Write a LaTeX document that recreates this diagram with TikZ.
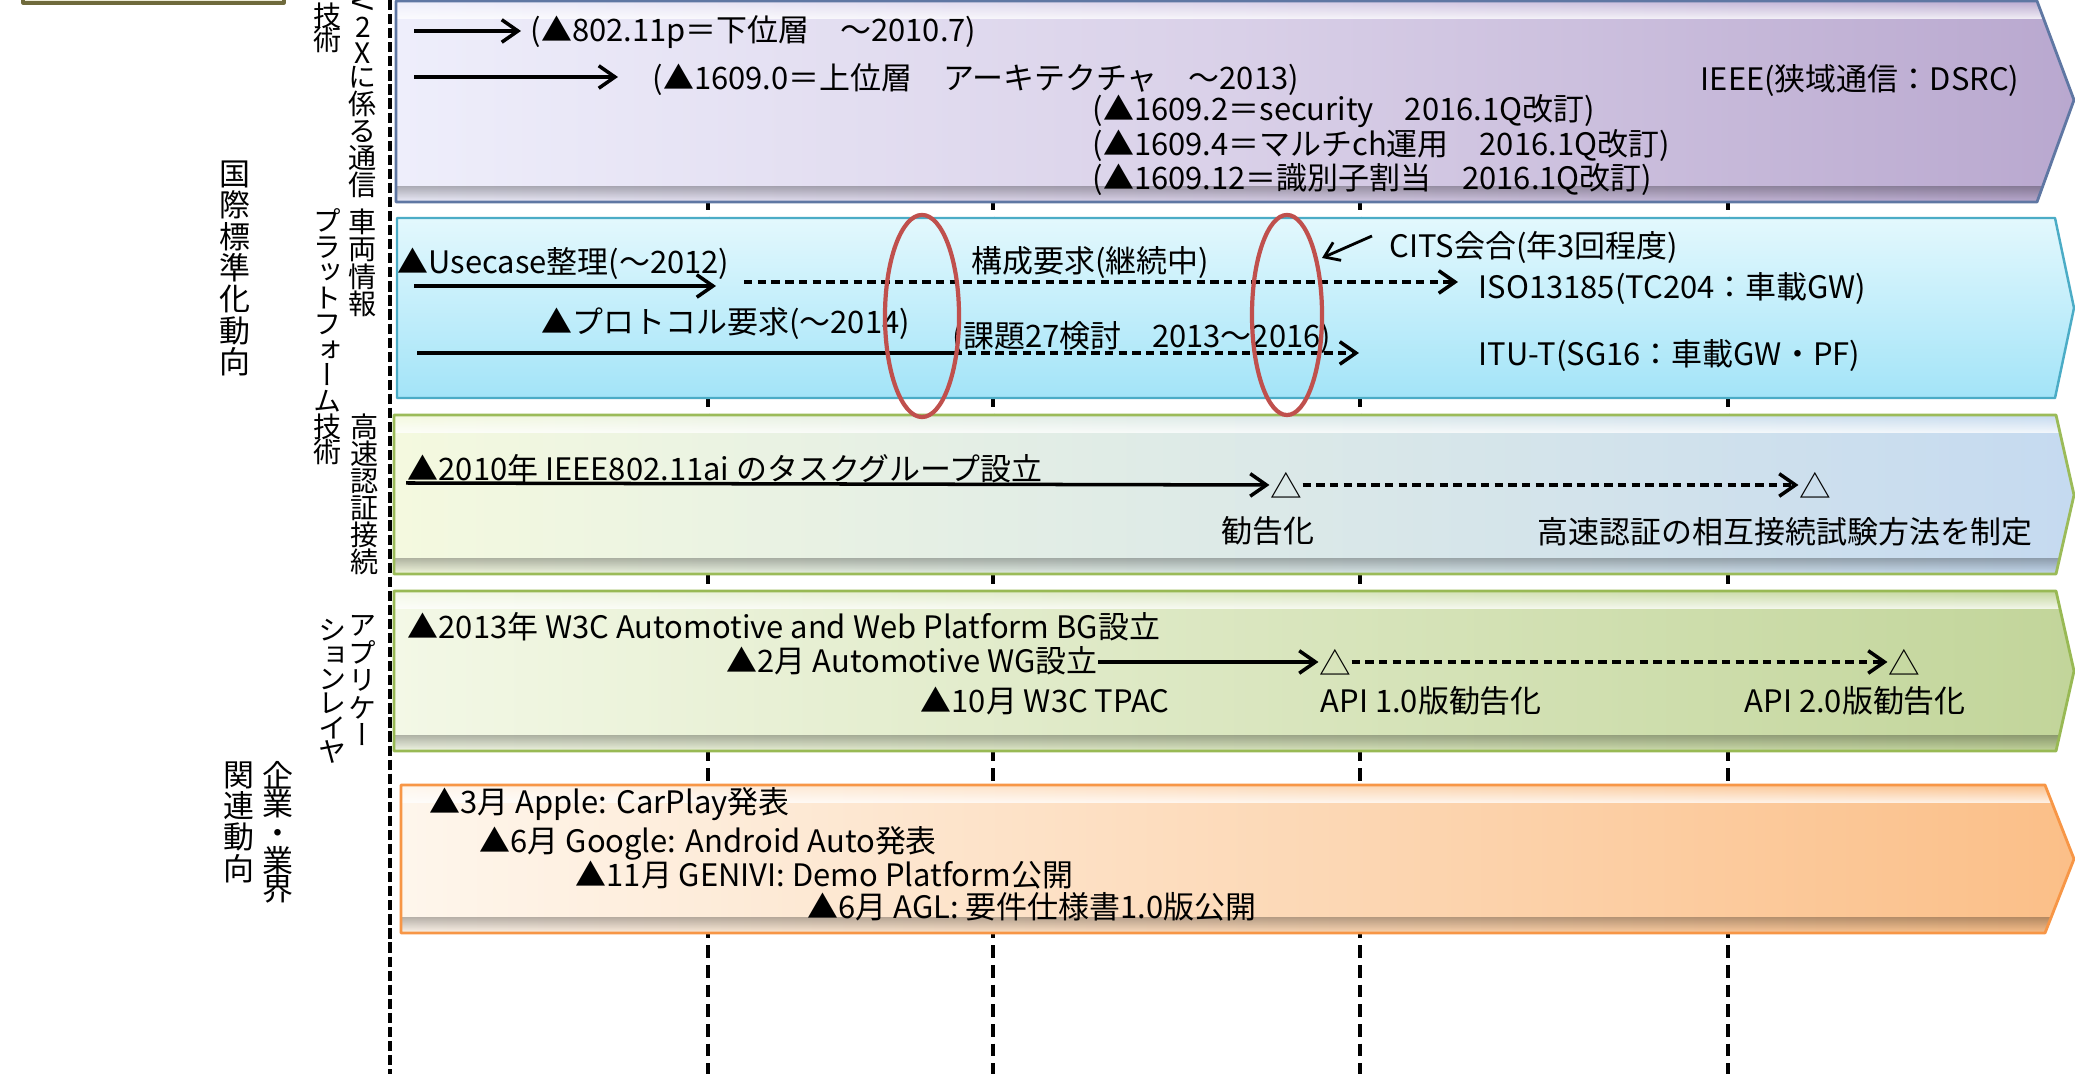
\documentclass[tikz,border=0pt]{standalone}
\usepackage{fontspec}
\usepackage{graphicx}
\setmainfont{Noto Sans CJK JP}
\newfontfamily\vjp{Noto Sans CJK JP}[RawFeature=+vert]
\usetikzlibrary{arrows.meta,fadings,shapes.geometric}

\definecolor{bAL}{HTML}{EEEEFB}\definecolor{bAM}{HTML}{D9D0E8}\definecolor{bAR}{HTML}{B9A8CF}\definecolor{bAD}{HTML}{5F77A3}
\definecolor{bBT}{HTML}{E3F8FD}\definecolor{bBB}{HTML}{A3E4F8}\definecolor{bBD}{HTML}{4BACC6}
\definecolor{bCL}{HTML}{F4F9DF}\definecolor{bCM}{HTML}{E3EDCB}\definecolor{bCR}{HTML}{C5DAF0}\definecolor{bCD}{HTML}{9BBB59}
\definecolor{bDL}{HTML}{F3F8E6}\definecolor{bDR}{HTML}{C2D59A}\definecolor{bDD}{HTML}{98B954}
\definecolor{bEL}{HTML}{FEF6EC}\definecolor{bER}{HTML}{FBBF88}\definecolor{bED}{HTML}{F79646}
\definecolor{ellred}{HTML}{C0504D}
\definecolor{boxfill}{HTML}{EEECD8}\definecolor{boxdraw}{HTML}{6F6A3C}

\newcommand{\bandpath}[5]{(#1,#2) -- (#3,#2) -- (2074,#5) -- (#3,#4) -- (#1,#4) -- cycle}
\newcommand{\bandbevel}[5]{%
  \begin{scope}
    \clip \bandpath{#1}{#2}{#3}{#4}{#5};
    \fill[white,opacity=.8,path fading=north] (#1,#2) rectangle (2075,#2+18);
    \fill[black,opacity=.28,path fading=south] (#1,#4-16) rectangle (2075,#4);
  \end{scope}}

\tikzset{
  f/.style={font=\fontsize{8.8}{10}\selectfont},
  txt/.style={f, anchor=west, inner sep=0pt, text height=7.4pt, text depth=1.4pt},
  ctxt/.style={f, anchor=center, inner sep=0pt, text height=7.4pt, text depth=1.4pt},
  tri/.style={font=\fontsize{9}{9}\selectfont, inner sep=0pt, anchor=center},
  vl/.style 2 args={align=center, inner sep=0pt, anchor=north,
     font=\vjp\fontsize{#1}{#2}\selectfont},
  vc/.style={inner sep=0pt, anchor=center, font=\vjp\fontsize{8}{8}\selectfont},
  arr/.style={line width=1pt, -{Straight Barb[length=4.6pt,width=6.4pt]}},
  darr/.style={arr, dash pattern=on 2.4pt off 1.5pt},
  tick/.style={line width=0.9pt, dash pattern=on 3.6pt off 2pt},
  lead/.style={line width=1.05pt, dash pattern=on 2.9pt off 1.1pt},
  ell/.style={ellipse, draw=ellred, line width=1.2pt, inner sep=0pt},
}

\begin{document}
\lineskiplimit=-100pt
\lineskip=0pt
\begin{tikzpicture}[x=0.01cm,y=-0.01cm,line join=round]
\useasboundingbox (0,0) rectangle (2075,1074);
\clip (0,0) rectangle (2075,1074);
\fill[white] (0,0) rectangle (2075,1074);

% top-left cut box
\draw[fill=boxfill,draw=boxdraw,line width=0.9pt] (23,-20) rectangle (284,3);

% timeline dashed lines
\coordinate (tA1) at (708,0);  \coordinate (tA2) at (708,1074);
\coordinate (tB1) at (993,0);  \coordinate (tB2) at (993,1074);
\coordinate (tC1) at (1360,0); \coordinate (tC2) at (1360,1074);
\coordinate (tD1) at (1728,0); \coordinate (tD2) at (1728,1074);
\draw[tick] (tA1) -- (tA2);
\draw[tick] (tB1) -- (tB2);
\draw[tick] (tC1) -- (tC2);
\draw[tick] (tD1) -- (tD2);
\coordinate (L1) at (390,0); \coordinate (L2) at (390,1074);
\draw[lead] (L1) -- (L2);

% band 1 (purple)
\fill[left color=bAL,right color=bAR,middle color=bAM] \bandpath{396}{1}{2037}{202}{100};
\bandbevel{396}{1}{2037}{202}{100}
\draw[bAD,line width=0.8pt] \bandpath{396}{1}{2037}{202}{100};

% band 2 (cyan)
\fill[top color=bBT,bottom color=bBB] \bandpath{397}{218}{2055}{398}{308};
\draw[bBD,line width=0.7pt] \bandpath{397}{218}{2055}{398}{308};

% band 3 (green to blue)
\fill[left color=bCL,middle color=bCM,right color=bCR] \bandpath{394}{415}{2056}{574}{495};
\bandbevel{394}{415}{2056}{574}{495}
\draw[bCD,line width=0.8pt] \bandpath{394}{415}{2056}{574}{495};

% band 4 (green)
\fill[left color=bDL,right color=bDR] \bandpath{394}{591}{2056}{751}{671};
\bandbevel{394}{591}{2056}{751}{671}
\draw[bDD,line width=0.8pt] \bandpath{394}{591}{2056}{751}{671};

% band 5 (orange)
\fill[left color=bEL,right color=bER] \bandpath{401}{785}{2045}{933}{859};
\bandbevel{401}{785}{2045}{933}{859}
\draw[bED,line width=0.8pt] \bandpath{401}{785}{2045}{933}{859};

% ---------- left vertical labels ----------
\node[vl={8.8}{8.93}] (lbMain) at (235,160) {国\\際\\標\\準\\化\\動\\向};
\node[vc] (lbV) at (363,3) {\rotatebox{-90}{V}};
\node[vc] (lb2) at (363,27) {2};
\node[vc] (lbX) at (363,53) {X};
\node[vl={8}{7.65}] (lbA1) at (363,66) {に\\係\\る\\通\\信};
\node[vl={8}{7.0}] (lbA2) at (328,2) {技\\術};
\node[vl={8}{7.8}] (lbB1) at (363,208) {車\\両\\情\\報};
\node[vl={8}{7.3}] (lbB2) at (328,208) {プ\\ラ\\ッ\\ト\\フ\\ォ\\ー\\ム\\技\\術};
\node[vl={8}{7.7}] (lbC1) at (365,413) {高\\速\\認\\証\\接\\続};
\node[vl={8}{7.8}] (lbD1) at (363,615) {ア\\プ\\リ\\ケ\\ー};
\node[vl={8}{6.9}] (lbD2) at (333,619) {シ\\ョ\\ン\\レ\\イ\\ヤ};
\node[vl={8.8}{8.0}] (lbE1) at (278,761) {企\\業\\・\\業\\界};
\node[vl={8.8}{8.9}] (lbE2) at (239,761) {関\\連\\動\\向};

% ---------- band 1 content ----------
\coordinate (a11s) at (414,31); \coordinate (a11e) at (521,31);
\coordinate (a12s) at (414,77); \coordinate (a12e) at (618,77);
\draw[arr] (a11s) -- (a11e);
\draw[arr] (a12s) -- (a12e);
\node[txt] (t11) at (530,31) {(▲802.11p＝下位層　～2010.7)};
\node[txt] (t12) at (652,79) {(▲1609.0＝上位層　アーキテクチャ　～2013)};
\node[txt] (t13) at (1092,110) {(▲1609.2＝security　2016.1Q改訂)};
\node[txt] (t14) at (1092,145) {(▲1609.4＝マルチch運用　2016.1Q改訂)};
\node[txt] (t15) at (1092,179) {(▲1609.12＝識別子割当　2016.1Q改訂)};
\node[txt,anchor=east] (t16) at (2020,80) {IEEE(狭域通信：DSRC)};

% ---------- band 2 content ----------
\node[txt] (t21) at (397,263) {▲Usecase整理(～2012)};
\coordinate (a21s) at (414,286); \coordinate (a21e) at (716,286);
\draw[arr] (a21s) -- (a21e);
\node[txt] (t22) at (971,262) {構成要求(継続中)};
\coordinate (a22s) at (744,282); \coordinate (a22e) at (1458,282);
\draw[darr] (a22s) -- (a22e);
\node[txt] (t23) at (1389,247) {CITS会合(年3回程度)};
\coordinate (a23s) at (1372,236); \coordinate (a23e) at (1322,258);
\draw[line width=0.8pt,-{Straight Barb[length=4pt,width=5.6pt]}] (a23s) -- (a23e);
\node[txt] (t24) at (1478,288) {ISO13185(TC204：車載GW)};
\node[txt] (t25) at (541,323) {▲プロトコル要求(～2014)};
\coordinate (a24s) at (417,353); \coordinate (a24m) at (954,353); \coordinate (a24e) at (1359,353);
\draw[line width=1.1pt] (a24s) -- (a24m);
\draw[darr] (a24m) -- (a24e);
\node[txt] (t26) at (952,337) {(課題27検討　2013～2016)};
\node[txt] (t27) at (1478,355) {ITU-T(SG16：車載GW・PF)};
\node[ell,minimum width=0.74cm,minimum height=2.02cm] (e1) at (922,316) {};
\node[ell,minimum width=0.70cm,minimum height=2.00cm] (e2) at (1287,315) {};

% ---------- band 3 content ----------
\node[txt] (t31) at (407,470) {▲2010年 IEEE802.11ai のタスクグループ設立};
\node[tri] (tri31) at (1286,485) {△};
\node[tri] (tri32) at (1815,485) {△};
\coordinate (a31s) at (406,483);
\draw[arr] (a31s) -- (tri31.west);
\draw[darr] (tri31.east) -- (tri32.west);
\node[ctxt] (t32) at (1268,532) {勧告化};
\node[txt] (t33) at (1537,533) {高速認証の相互接続試験方法を制定};

% ---------- band 4 content ----------
\node[txt] (t41) at (407,628) {▲2013年 W3C Automotive and Web Platform BG設立};
\node[txt] (t42) at (726,662) {▲2月 Automotive WG設立};
\node[tri] (tri41) at (1335,662) {△};
\node[tri] (tri42) at (1904,662) {△};
\draw[arr] (t42.east) -- (tri41.west);
\draw[darr] (tri41.east) -- (tri42.west);
\node[txt] (t43) at (920,702) {▲10月 W3C TPAC};
\node[txt] (t44) at (1320,702) {API 1.0版勧告化};
\node[txt] (t45) at (1744,702) {API 2.0版勧告化};

% ---------- band 5 content ----------
\node[txt] (t51) at (429,803) {▲3月 Apple: CarPlay発表};
\node[txt] (t52) at (479,842) {▲6月 Google: Android Auto発表};
\node[txt] (t53) at (575,876) {▲11月 GENIVI: Demo Platform公開};
\node[txt] (t54) at (807,908) {▲6月 AGL: 要件仕様書1.0版公開};
\end{tikzpicture}
\end{document}
